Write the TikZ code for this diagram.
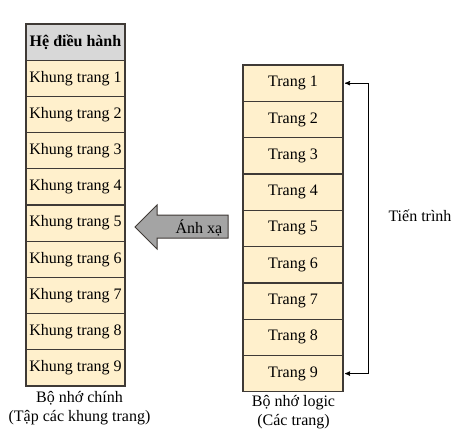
\documentclass[tikz,border=0pt]{standalone}
\usepackage{fontspec}
\setmainfont{Liberation Serif}
\usetikzlibrary{arrows}
\definecolor{cellfill}{HTML}{FFF0CC}
\definecolor{osfill}{HTML}{D8D8D8}
\definecolor{edgecol}{HTML}{3F3A36}
\definecolor{mapfill}{HTML}{A4A4A4}
\tikzset{x=1pt, y=-1pt, % One unit is one pixel of the layout
every node/.style=
    { % Text of all nodes
        font=\fontsize{16}{19}\selectfont
    },
    frame/.style={ % Boxes of main memory
        draw=edgecol,
        line width=1.3pt,
        fill=cellfill,
        minimum width=99pt,
        minimum height=36.2pt,
        inner sep=0pt,
        outer sep=0pt
    },
    osframe/.style={frame, fill=osfill, font=\fontsize{16}{19}\selectfont\bfseries},
    page/.style={frame, minimum width=100pt, minimum height=36.3pt},
    mapping/.style={draw=edgecol, line width=1pt, fill=mapfill},
    proc/.style={<->, >=stealth', line width=0.9pt}
}
\begin{document}
\begin{tikzpicture}
\useasboundingbox (0,0) rectangle (465,446);

% main memory
\node [osframe] (os) at (75.5,42.1) {Hệ điều hành};
\node [frame]   (k1) at (75.5,78.3) {Khung trang 1};
\node [frame]   (k2) at (75.5,114.5) {Khung trang 2};
\node [frame]   (k3) at (75.5,150.7) {Khung trang 3};
\node [frame]   (k4) at (75.5,186.9) {Khung trang 4};
\node [frame]   (k5) at (75.5,223.1) {Khung trang 5};
\node [frame]   (k6) at (75.5,259.3) {Khung trang 6};
\node [frame]   (k7) at (75.5,295.5) {Khung trang 7};
\node [frame]   (k8) at (75.5,331.7) {Khung trang 8};
\node [frame]   (k9) at (75.5,367.9) {Khung trang 9};
\node [align=center] (mainlbl) at (79.5,408.5) {Bộ nhớ chính\\(Tập các khung trang)};

% logical memory
\node [page] (t1) at (293,83.2) {Trang 1};
\node [page] (t2) at (293,119.5) {Trang 2};
\node [page] (t3) at (293,155.8) {Trang 3};
\node [page] (t4) at (293,192.1) {Trang 4};
\node [page] (t5) at (293,228.4) {Trang 5};
\node [page] (t6) at (293,264.7) {Trang 6};
\node [page] (t7) at (293,301.0) {Trang 7};
\node [page] (t8) at (293,337.3) {Trang 8};
\node [page] (t9) at (293,373.6) {Trang 9};
\node [align=center] (logiclbl) at (293.5,412.5) {Bộ nhớ logic\\(Các trang)};

% process
\draw [proc] ([xshift=2pt]t1.east) -- ++(23,0) |- ([xshift=2pt]t9.east);
\node (procl) at (420,216) {Tiến trình};

% mapping arrow
\draw [mapping] (228,215) -- (157,215) -- (157,205) -- (135,227)
    -- (157,249) -- (157,238) -- (228,238) -- cycle;
\node (maplbl) at (199,228) {Ánh xạ};
\end{tikzpicture}
\end{document}
